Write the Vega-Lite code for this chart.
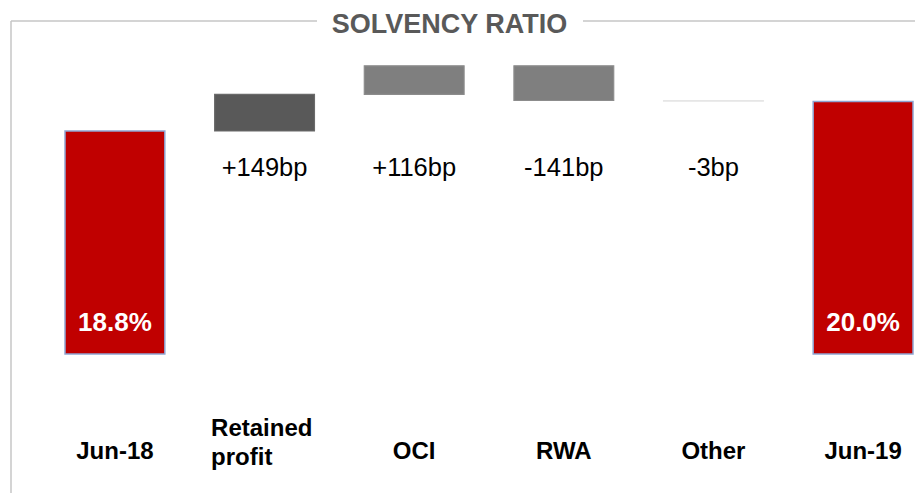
{
  "$schema": "https://vega.github.io/schema/vega-lite/v6.json",
  "width": 915,
  "height": 493,
  "padding": 0,
  "autosize": {"type": "none"},
  "config": {"view": {"stroke": null}, "font": "Liberation Sans"},
  "data": {
    "values": [
      {"category": "Jun-18", "type": "total", "value": 18.8, "label": "18.8%"},
      {"category": "Retained profit", "type": "delta", "start": 18.8, "end": 20.29, "label": "+149bp"},
      {"category": "OCI", "type": "delta", "start": 20.29, "end": 21.45, "label": "+116bp"},
      {"category": "RWA", "type": "delta", "start": 21.45, "end": 20.04, "label": "-141bp"},
      {"category": "Other", "type": "delta", "start": 20.04, "end": 20.01, "label": "-3bp"},
      {"category": "Jun-19", "type": "total", "value": 20.0, "label": "20.0%"}
    ]
  },
  "layer": [
    {
      "data": {"values": [{"title": "SOLVENCY RATIO"}]},
      "layer": [
        {
          "mark": {"type": "rule", "color": "#C6C6C6", "strokeWidth": 1.5},
          "encoding": {
            "x": {"datum": 11, "type": "quantitative", "scale": {"domain": [0, 915], "nice": false, "zero": false}, "axis": null},
            "y": {"datum": 21, "type": "quantitative", "scale": {"domain": [0, 493], "reverse": true, "nice": false, "zero": false}, "axis": null},
            "y2": {"datum": 493}
          }
        },
        {
          "mark": {"type": "rule", "color": "#C6C6C6", "strokeWidth": 1.5},
          "encoding": {
            "x": {"datum": 11, "type": "quantitative"},
            "x2": {"datum": 317},
            "y": {"datum": 21, "type": "quantitative"}
          }
        },
        {
          "mark": {"type": "rule", "color": "#C6C6C6", "strokeWidth": 1.5},
          "encoding": {
            "x": {"datum": 583, "type": "quantitative"},
            "x2": {"datum": 915},
            "y": {"datum": 21, "type": "quantitative"}
          }
        },
        {
          "mark": {"type": "text", "font": "Liberation Sans", "fontWeight": "bold", "fontSize": 27, "color": "#595959", "align": "center", "baseline": "alphabetic"},
          "encoding": {
            "x": {"datum": 449.5, "type": "quantitative"},
            "y": {"datum": 33, "type": "quantitative"},
            "text": {"field": "title"}
          }
        }
      ]
    },
    {
      "encoding": {
        "x": {
          "field": "category",
          "type": "nominal",
          "sort": null,
          "scale": {
            "domain": ["Jun-18", "Retained profit", "OCI", "RWA", "Other", "Jun-19"],
            "paddingInner": 0.333,
            "paddingOuter": 0.224,
            "align": 0.97
          },
          "axis": null
        }
      },
      "layer": [
        {
          "transform": [{"filter": "datum.type === 'total'"}],
          "mark": {"type": "bar", "color": "#C00000", "stroke": "#8EA4D2", "strokeWidth": 1.5},
          "encoding": {
            "y": {"field": "value", "type": "quantitative", "scale": {"domain": [4.085, 24.126], "nice": false, "zero": false}, "axis": null},
            "y2": {"datum": 9.74}
          }
        },
        {
          "transform": [{"filter": "datum.type === 'delta'"}],
          "mark": {"type": "bar", "strokeWidth": 1.2},
          "encoding": {
            "y": {"field": "start", "type": "quantitative"},
            "y2": {"field": "end"},
            "color": {
              "field": "category",
              "type": "nominal",
              "scale": {"domain": ["Retained profit", "OCI", "RWA", "Other"], "range": ["#595959", "#7F7F7F", "#7F7F7F", "#E6E6E6"]},
              "legend": null
            },
            "stroke": {
              "field": "category",
              "type": "nominal",
              "scale": {"domain": ["Retained profit", "OCI", "RWA", "Other"], "range": ["#6A6A6A", "#8C8C8C", "#8C8C8C", "#E6E6E6"]},
              "legend": null
            }
          }
        },
        {
          "transform": [{"filter": "datum.type === 'delta'"}],
          "mark": {"type": "text", "font": "Liberation Sans", "fontSize": 25.5, "color": "#000000", "align": "center", "baseline": "alphabetic"},
          "encoding": {
            "y": {"datum": 16.97, "type": "quantitative"},
            "text": {"field": "label"}
          }
        },
        {
          "transform": [{"filter": "datum.type === 'total'"}],
          "mark": {"type": "text", "font": "Liberation Sans", "fontWeight": "bold", "fontSize": 26, "color": "#FFFFFF", "align": "center", "baseline": "alphabetic"},
          "encoding": {
            "y": {"datum": 10.67, "type": "quantitative"},
            "text": {"field": "label"}
          }
        },
        {
          "transform": [{"filter": "datum.category !== 'Retained profit'"}],
          "mark": {"type": "text", "font": "Liberation Sans", "fontWeight": "bold", "fontSize": 24, "color": "#000000", "align": "center", "baseline": "alphabetic"},
          "encoding": {
            "y": {"datum": 5.47, "type": "quantitative"},
            "text": {"field": "category"}
          }
        },
        {
          "transform": [{"filter": "datum.category === 'Retained profit'"}],
          "mark": {"type": "text", "font": "Liberation Sans", "fontWeight": "bold", "fontSize": 24, "color": "#000000", "align": "left", "dx": -53.5, "baseline": "alphabetic", "lineBreak": " ", "lineHeight": 29},
          "encoding": {
            "y": {"datum": 6.40, "type": "quantitative"},
            "text": {"field": "category"}
          }
        }
      ]
    }
  ],
  "resolve": {"scale": {"x": "independent", "y": "independent", "color": "independent", "stroke": "independent"}}
}
